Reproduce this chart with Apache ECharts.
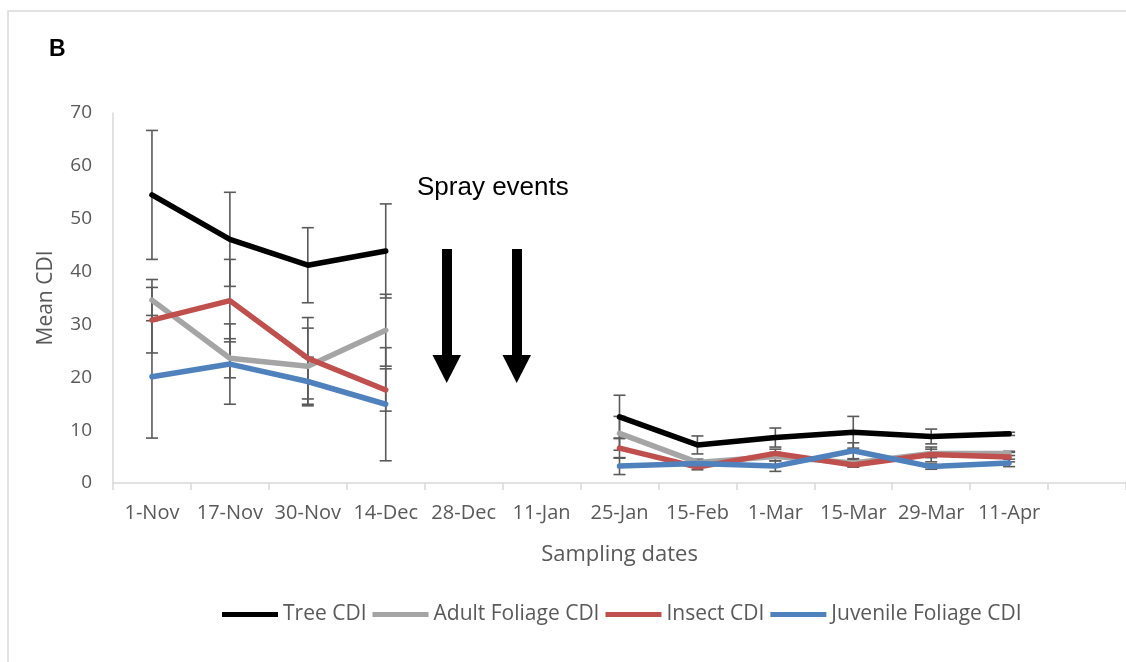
<!DOCTYPE html>
<html>
<head>
<meta charset="utf-8">
<script src="https://cdn.jsdelivr.net/npm/echarts@6/dist/echarts.min.js"></script>
<style>
html,body{margin:0;padding:0;background:#fff;}
#chart{width:1126px;height:662px;}
</style>
</head>
<body>
<div id="chart"></div>
<script>
// ---- data ----
var categories = ['1-Nov','17-Nov','30-Nov','14-Dec','28-Dec','11-Jan','25-Jan','15-Feb','1-Mar','15-Mar','29-Mar','11-Apr',''];
var yTicks = [0,10,20,30,40,50,60,70];
var treeCDI      = [54.5, 46.1, 41.2, 43.9, null, null, 12.5, 7.2, 8.6, 9.6, 8.8, 9.3, null];
var treeErr      = [12.2,  8.9,  7.1,  8.9, null, null,  4.1, 1.7, 1.8, 3.0, 1.4, 0.3, null];
var adultCDI     = [34.6, 23.6, 22.1, 28.9, null, null,  9.4, 3.9, 5.0, 3.8, 5.6, 5.6, null];
var adultErr     = [ 3.9,  3.7,  7.2,  6.8, null, null,  3.2, 0.6, 0.8, 0.6, 0.8, 0.4, null];
var insectCDI    = [30.8, 34.5, 23.6, 17.6, null, null,  6.6, 3.0, 5.6, 3.4, 5.4, 4.9, null];
var insectErr    = [ 6.2,  7.8,  7.7,  4.0, null, null,  1.9, 0.5, 0.8, 0.4, 1.4, 0.9, null];
var juvenileCDI  = [20.1, 22.5, 19.2, 14.9, null, null,  3.2, 3.7, 3.2, 6.1, 3.1, 3.8, null];
var juvenileErr  = [11.6,  7.6,  4.6, 10.7, null, null,  1.6, 0.5, 1.0, 1.5, 0.5, 0.7, null];
var seriesNames  = ['Tree CDI','Adult Foliage CDI','Insect CDI','Juvenile Foliage CDI'];
var seriesColors = ['#000000','#A5A5A5','#C0504D','#4F81BD'];

var FONT = "'Open Sans', sans-serif";
var ARIAL = "'Liberation Sans', Arial, sans-serif";
var TXT = '#595959';

function errData(vals, errs){
  var out = [];
  for (var i=0;i<vals.length;i++){
    if (vals[i]!=null && errs[i]!=null) out.push([i, vals[i]-errs[i], vals[i]+errs[i]]);
  }
  return out;
}
function errSeries(vals, errs){
  return {
    type:'custom', silent:true, z:1,
    data: errData(vals, errs),
    encode:{x:0, y:[1,2]},
    renderItem: function(params, api){
      var x = api.value(0);
      var lo = api.coord([x, api.value(1)]);
      var hi = api.coord([x, api.value(2)]);
      var w = 6;
      var st = {stroke:'#5a5a5a', lineWidth:1.6, fill:null};
      return {type:'group', children:[
        {type:'line', shape:{x1:lo[0],y1:lo[1],x2:hi[0],y2:hi[1]}, style:st},
        {type:'line', shape:{x1:lo[0]-w,y1:lo[1],x2:lo[0]+w,y2:lo[1]}, style:st},
        {type:'line', shape:{x1:hi[0]-w,y1:hi[1],x2:hi[0]+w,y2:hi[1]}, style:st}
      ]};
    }
  };
}
function lineSeries(name, vals, color){
  return {
    name:name, type:'line', data:vals, z:3,
    symbol:'none', showSymbol:false, connectNulls:false,
    lineStyle:{color:color, width:5.5, cap:'round', join:'round'},
    itemStyle:{color:color}
  };
}

var allVals = [treeCDI, adultCDI, insectCDI, juvenileCDI];
var allErrs = [treeErr, adultErr, insectErr, juvenileErr];
var series = [];
for (var k=0;k<4;k++) series.push(errSeries(allVals[k], allErrs[k]));
for (var k=0;k<4;k++) series.push(lineSeries(seriesNames[k], allVals[k], seriesColors[k]));

var chart = echarts.init(document.getElementById('chart'), null, {renderer:'canvas'});
chart.setOption({
  animation:false,
  backgroundColor:'#ffffff',
  grid:{left:113, right:0, top:113, bottom:179, containLabel:false},
  legend:{
    data: seriesNames.map(function(n){return {name:n, icon:'rect'};}),
    left:217, top:599,
    itemWidth:56, itemHeight:5, itemGap:6,
    textStyle:{color:TXT, fontFamily:FONT, fontSize:21}
  },
  xAxis:{
    type:'category', data:categories, boundaryGap:true,
    axisLine:{lineStyle:{color:'#d9d9d9', width:1.5}},
    axisTick:{show:true, length:7, alignWithLabel:false, lineStyle:{color:'#d9d9d9', width:1.5}},
    axisLabel:{color:TXT, fontFamily:FONT, fontSize:20, margin:20, interval:0},
    splitLine:{show:false},
    name:'Sampling dates', nameLocation:'middle', nameGap:61,
    nameTextStyle:{color:TXT, fontFamily:FONT, fontSize:22}
  },
  yAxis:{
    type:'value', min:yTicks[0], max:yTicks[yTicks.length-1], interval:10,
    axisLine:{show:true, lineStyle:{color:'#d9d9d9', width:1.5}},
    axisTick:{show:false},
    axisLabel:{color:TXT, fontFamily:FONT, fontSize:19, margin:21},
    splitLine:{show:false},
    name:'Mean CDI', nameLocation:'middle', nameGap:56,
    nameTextStyle:{color:TXT, fontFamily:FONT, fontSize:21}
  },
  graphic:[
    {type:'rect', shape:{x:8, y:11, width:1200, height:700}, style:{fill:null, stroke:'#d9d9d9', lineWidth:1.5}, silent:true},
    {type:'text', x:49, y:38, style:{text:'B', fontFamily:ARIAL, fontSize:23, fontWeight:'bold', fill:'#000'}},
    {type:'text', x:417, y:175, style:{text:'Spray events', fontFamily:ARIAL, fontSize:26, fill:'#000'}},
    {type:'rect', shape:{x:442, y:249, width:10, height:107}, style:{fill:'#000'}},
    {type:'polygon', shape:{points:[[432.5,355],[461,355],[446.7,383]]}, style:{fill:'#000'}},
    {type:'rect', shape:{x:512, y:249, width:10, height:107}, style:{fill:'#000'}},
    {type:'polygon', shape:{points:[[502.5,355],[531,355],[516.7,383]]}, style:{fill:'#000'}}
  ],
  series: series
});
</script>
</body>
</html>
